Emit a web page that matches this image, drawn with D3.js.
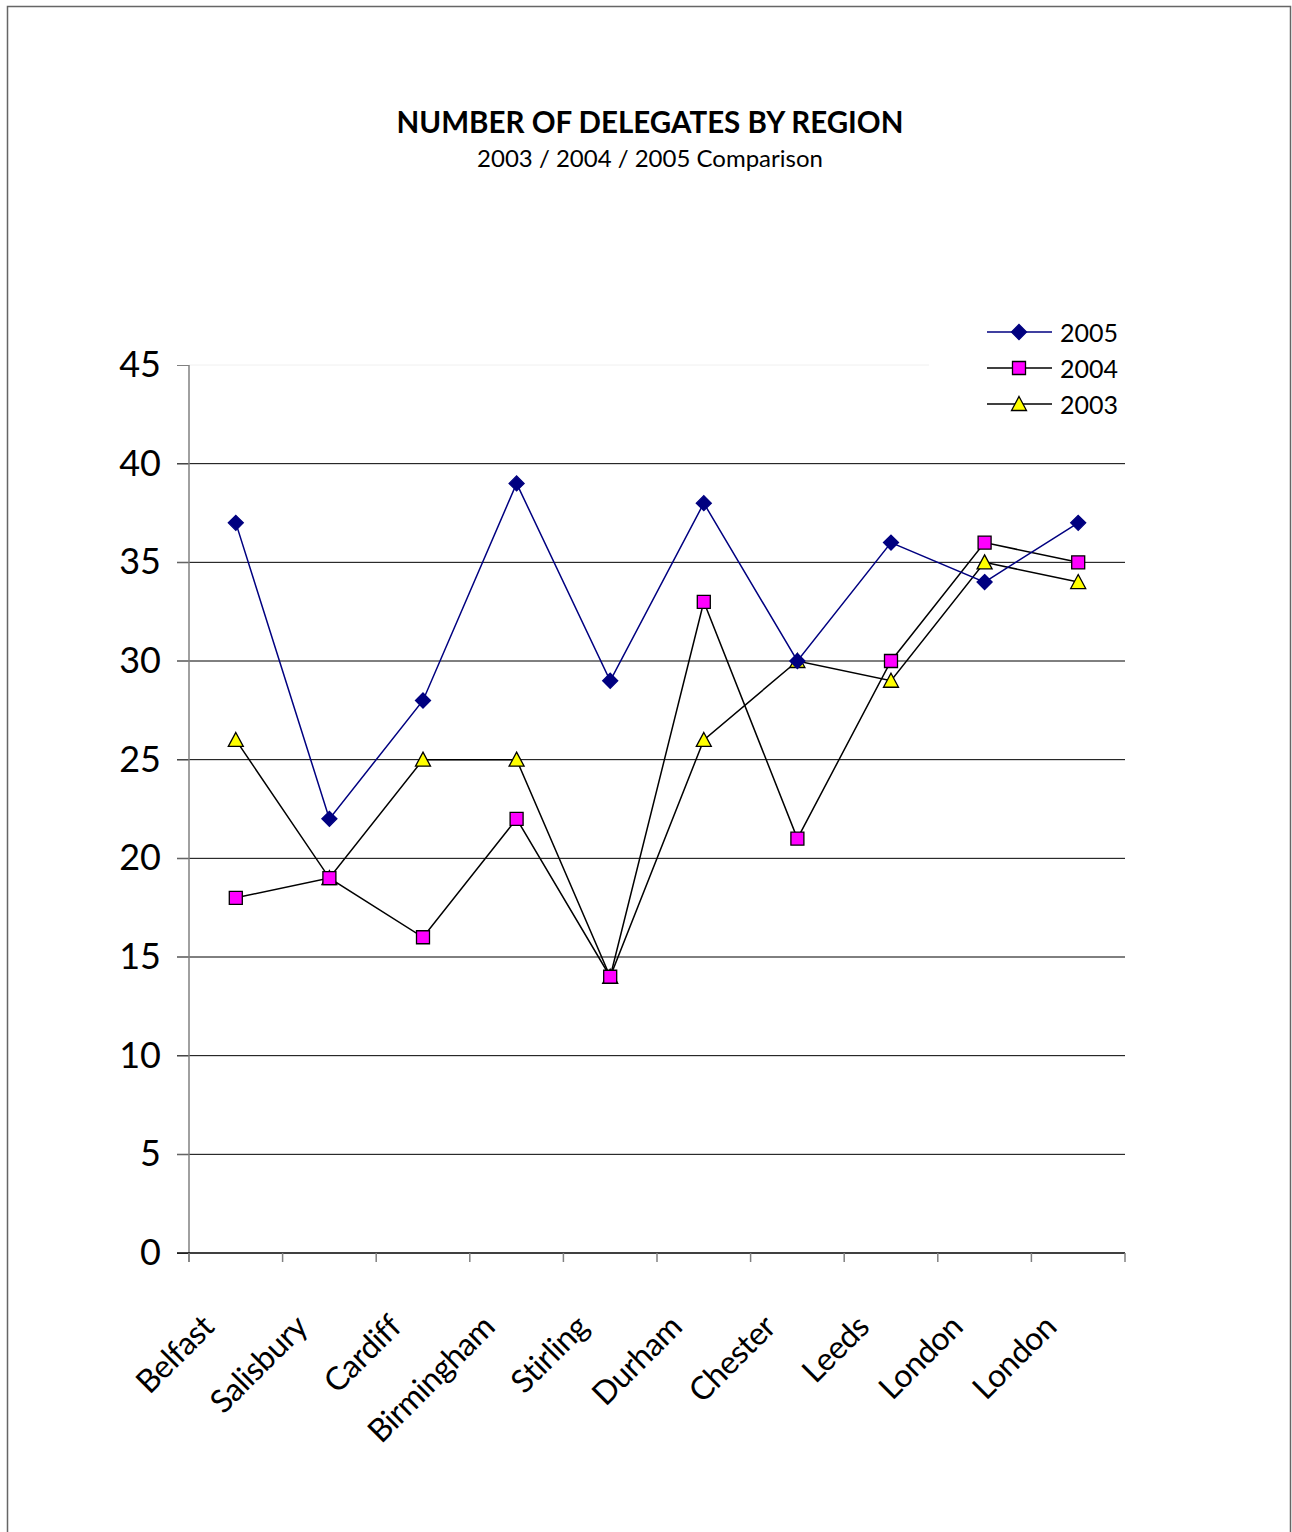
<!DOCTYPE html>
<html>
<head>
<meta charset="utf-8">
<script src="https://cdn.jsdelivr.net/npm/d3@7"></script>
<style>
  body { margin: 0; background: #fff; }
  svg { display: block; }
</style>
</head>
<body>
<div id="viz"></div>
<script>
// Datos
const regions = ['Belfast', 'Salisbury', 'Cardiff', 'Birmingham', 'Stirling', 'Durham', 'Chester', 'Leeds', 'London', 'London'];
const values2005 = [37, 22, 28, 39, 29, 38, 30, 36, 34, 37];
const values2004 = [18, 19, 16, 22, 14, 33, 21, 30, 36, 35];
const values2003 = [26, 19, 25, 25, 14, 26, 30, 29, 35, 34];
const yTicks = [0, 5, 10, 15, 20, 25, 30, 35, 40, 45];

const FONT = 'Lato, "Open Sans", sans-serif';

let margin = {top: 365, left: 189},
    width = 1125 - 189,
    height = 1253 - 365;

let svg = d3.select('#viz').append('svg')
    .attr('width', 1292)
    .attr('height', 1532);

// Marco
svg.append('rect')
    .attr('x', 7.5).attr('y', 6.5)
    .attr('width', 1283).attr('height', 1560)
    .attr('fill', 'none')
    .attr('stroke', '#666')
    .attr('stroke-width', 1.5);

// Títulos
svg.append('text')
    .attr('x', 650).attr('y', 133)
    .attr('text-anchor', 'middle')
    .style('font-family', FONT)
    .style('font-weight', 'bold')
    .style('font-size', '29.5px')
    .text('NUMBER OF DELEGATES BY REGION');

svg.append('text')
    .attr('x', 650).attr('y', 167)
    .attr('text-anchor', 'middle')
    .style('font-family', FONT)
    .style('font-size', '24px')
    .text('2003 / 2004 / 2005 Comparison');

let g = svg.append('g')
    .attr('transform', 'translate(' + margin.left + ',' + margin.top + ')');

let x = d3.scaleBand().domain(d3.range(regions.length)).range([0, width]);
let y = d3.scaleLinear().domain([0, 45]).range([height, 0]);

// Rejilla
g.selectAll('.grid')
    .data(yTicks.filter(d => d > 0 && d < 45))
    .enter().append('line')
    .attr('x1', -12).attr('x2', width)
    .attr('y1', d => y(d)).attr('y2', d => y(d))
    .attr('stroke', '#000').attr('stroke-width', 1);

g.append('line')
    .attr('x1', 0).attr('x2', 740)
    .attr('y1', y(45)).attr('y2', y(45))
    .attr('stroke', '#f0f0f0');

// Eje Y
let yAxis = g.append('g')
    .call(d3.axisLeft(y).tickValues(yTicks).tickSize(12).tickPadding(16));
yAxis.select('.domain').remove();
yAxis.selectAll('line').attr('stroke', '#808080');
yAxis.selectAll('text')
    .style('font-family', FONT)
    .style('font-size', '36px')
    .attr('fill', '#000');

g.append('line')
    .attr('x1', 0).attr('x2', 0)
    .attr('y1', 0).attr('y2', height + 9)
    .attr('stroke', '#808080').attr('stroke-width', 1.5);

// Eje X
g.append('line')
    .attr('x1', -12).attr('x2', width)
    .attr('y1', height).attr('y2', height)
    .attr('stroke', '#000').attr('stroke-width', 1.5);

g.selectAll('.xtick')
    .data(d3.range(regions.length + 1))
    .enter().append('line')
    .attr('x1', d => d * x.step()).attr('x2', d => d * x.step())
    .attr('y1', height).attr('y2', height + 9)
    .attr('stroke', '#808080').attr('stroke-width', 1.5);

g.selectAll('.xlabel')
    .data(regions)
    .enter().append('text')
    .attr('transform', (d, i) => 'translate(' + (x(i) + x.bandwidth() / 2 - 20) + ',' + (height + 76) + ')rotate(-45)')
    .attr('text-anchor', 'end')
    .style('font-family', FONT)
    .style('font-size', '32px')
    .style('letter-spacing', '-0.5px')
    .text(d => d);

// Series
const series = [
    {name: '2005', values: values2005, line: '#000080', fill: '#000080', stroke: '#000080', shape: 'diamond'},
    {name: '2004', values: values2004, line: '#000', fill: '#ff00ff', stroke: '#000', shape: 'square'},
    {name: '2003', values: values2003, line: '#000', fill: '#ffff00', stroke: '#000', shape: 'triangle'}
];

function markerPath(shape) {
    if (shape == 'diamond') return 'M0,-7.5L7.5,0L0,7.5L-7.5,0Z';
    if (shape == 'square') return 'M-6.5,-6.5H6.5V6.5H-6.5Z';
    return 'M0,-7.5L7.5,6.5H-7.5Z';
}

let line = d3.line()
    .x((d, i) => x(i) + x.bandwidth() / 2)
    .y(d => y(d));

// Se dibuja primero 2003 para que 2005 quede encima
series.slice().reverse().forEach(function(s) {
    g.append('path')
        .datum(s.values)
        .attr('d', line)
        .attr('fill', 'none')
        .attr('stroke', s.line)
        .attr('stroke-width', 1.5);

    g.selectAll('.m' + s.name)
        .data(s.values)
        .enter().append('path')
        .attr('transform', (d, i) => 'translate(' + (x(i) + x.bandwidth() / 2) + ',' + y(d) + ')')
        .attr('d', markerPath(s.shape))
        .attr('fill', s.fill)
        .attr('stroke', s.stroke)
        .attr('stroke-width', 1.3);
});

// Leyenda
let legend = svg.append('g').attr('transform', 'translate(987,332)');
series.forEach(function(s, i) {
    let row = legend.append('g').attr('transform', 'translate(0,' + (i * 36) + ')');
    row.append('line')
        .attr('x1', 0).attr('x2', 65)
        .attr('stroke', s.line).attr('stroke-width', 1.5);
    row.append('path')
        .attr('transform', 'translate(32,0)')
        .attr('d', markerPath(s.shape))
        .attr('fill', s.fill)
        .attr('stroke', s.stroke)
        .attr('stroke-width', 1.3);
    row.append('text')
        .attr('x', 73).attr('y', 10)
        .style('font-family', FONT)
        .style('font-size', '25px')
        .text(s.name);
});
</script>
</body>
</html>
